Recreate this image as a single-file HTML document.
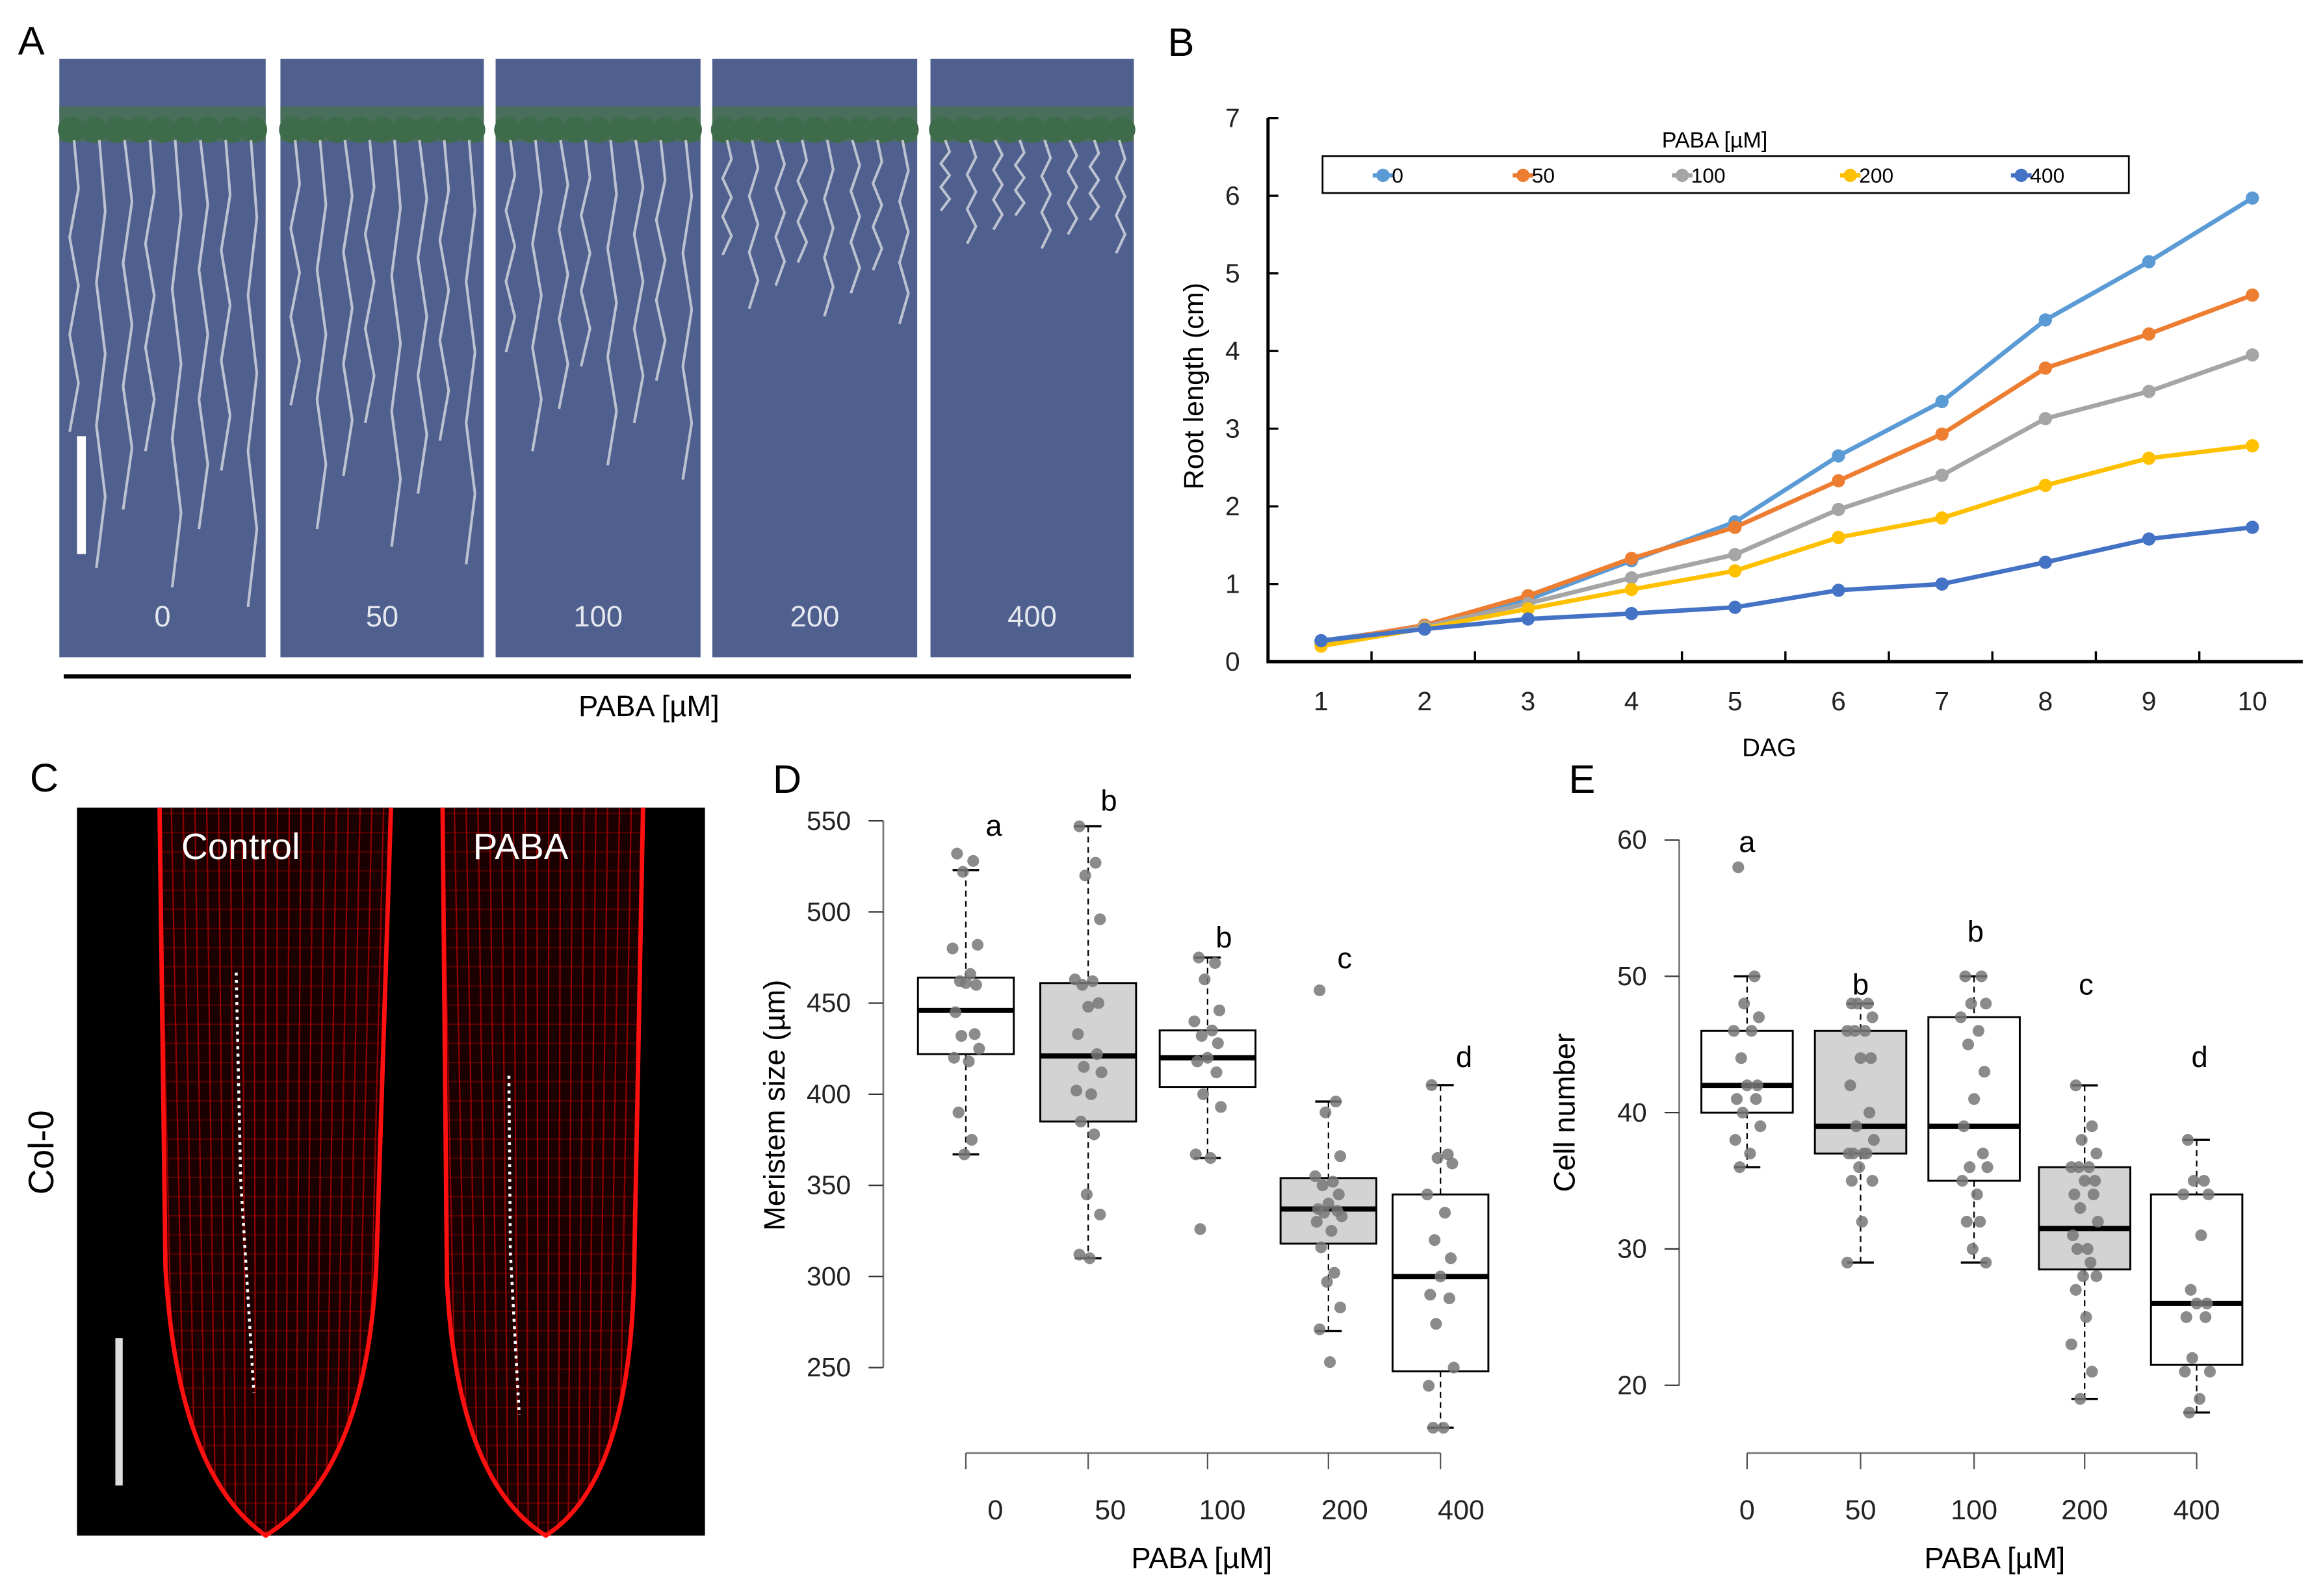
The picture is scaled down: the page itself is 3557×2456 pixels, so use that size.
<!DOCTYPE html>
<html><head><meta charset="utf-8">
<style>
html,body{margin:0;padding:0;background:#fff;}
svg{display:block;font-family:"Liberation Sans",Arial,sans-serif;}
</style></head>
<body>
<svg id="fig" width="3557" height="2456" viewBox="0 0 1568 1083" xmlns="http://www.w3.org/2000/svg">
<rect width="1568" height="1083" fill="#fff"/>
<defs>
<clipPath id="rootC"><path d="M108,548 L112,860 Q120,1000 180,1042 Q248,1000 255,860 L265,548 Z"/></clipPath>
<clipPath id="rootP"><path d="M300,548 L303,870 Q310,1005 370,1042 Q428,1005 430,860 L436,548 Z"/></clipPath>
</defs>
<g id="panelA"></g>
<text x="12" y="37" font-size="27">A</text>
<line x1="43" y1="459" x2="767" y2="459" stroke="#000" stroke-width="3"/>
<text x="440" y="486" font-size="20" text-anchor="middle">PABA [µM]</text>

<g id="panelC"></g>
<text x="20" y="537" font-size="27">C</text>
<text x="0" y="0" font-size="24" text-anchor="middle" transform="translate(36,782) rotate(-90)">Col-0</text>

<g id="panelB"></g>
<g id="panelD"></g>
<g id="panelE"></g>
</svg>
<script>
const NS="http://www.w3.org/2000/svg";
function mk(parent,tag,attrs,txt){const e=document.createElementNS(NS,tag);for(const k in attrs)e.setAttribute(k,attrs[k]);if(txt!==undefined)e.textContent=txt;parent.appendChild(e);return e;}

/* ---------- Panel B data ---------- */
const bDays=[1,2,3,4,5,6,7,8,9,10];
const bSeriesNames=["0","50","100","200","400"];
const bColors=["#5b9bd5","#ed7d31","#a5a5a5","#ffc000","#4472c4"];
const b0=[0.27,0.45,0.80,1.30,1.80,2.65,3.35,4.40,5.15,5.97];
const b50=[0.25,0.47,0.85,1.33,1.73,2.33,2.93,3.78,4.22,4.72];
const b100=[0.22,0.45,0.75,1.08,1.38,1.96,2.40,3.13,3.48,3.95];
const b200=[0.20,0.43,0.68,0.93,1.17,1.60,1.85,2.27,2.62,2.78];
const b400=[0.27,0.42,0.55,0.62,0.70,0.92,1.00,1.28,1.58,1.73];
const bYTicks=[0,1,2,3,4,5,6,7];

/* ---------- Panel D data ---------- */
const dCats=["0","50","100","200","400"];
const dQ1=[422,385,404,318,248];
const dMed=[446,421,420,337,300];
const dQ3=[464,461,435,354,345];
const dLo=[367,310,365,270,217];
const dHi=[523,547,475,396,405];
const dLetters=["a","b","b","c","d"];
const dYTicks=[250,300,350,400,450,500,550];
const dPts0=[532,528,522,482,480,466,462,460,461,445,433,432,425,420,418,390,375,367];
const dPts50=[547,527,520,496,463,462,460,450,448,433,422,415,412,402,400,385,378,345,334,312,310];
const dPts100=[475,472,463,446,440,435,432,428,420,418,412,400,393,367,365,326];
const dPts200=[457,396,390,366,355,352,350,345,340,337,336,335,333,330,325,316,302,297,283,271,253];
const dPts400=[405,367,365,362,345,335,320,310,300,290,288,274,250,240,217,217];

/* ---------- Panel E data ---------- */
const eQ1=[40,37,35,28.5,21.5];
const eMed=[42,39,39,31.5,26];
const eQ3=[46,46,47,36,34];
const eLo=[36,29,29,19,18];
const eHi=[50,48,50,42,38];
const eLetters=["a","b","b","c","d"];
const eYTicks=[20,30,40,50,60];
const ePts0=[58,50,48,47,46,46,44,42,42,41,41,40,39,38,37,36];
const ePts50=[48,48,48,47,46,46,46,44,44,42,40,39,38,37,37,37,37,36,35,35,32,29];
const ePts100=[50,50,48,48,47,46,45,43,41,39,37,36,36,35,34,32,32,30,29];
const ePts200=[42,39,38,37,36,36,36,35,35,34,34,33,32,31,30,30,29,28,28,27,25,23,21,19];
const ePts400=[38,35,35,34,34,31,27,26,26,25,25,22,21,21,19,18];

/* ===== Panel B ===== */
(function(){
 const g=document.getElementById('panelB');
 const step=70.2;
 const xS=d=>896+(d-1)*step, yS=v=>449-v*52.7;
 const AX=860;
 let t=mk(g,'text',{x:792,y:38,'font-size':27});t.textContent='B';
 
 
 let ax=mk(g,'path',{d:`M${AX},${yS(7)} L${AX},449 L1562,449`,fill:'none',stroke:'#000','stroke-width':2.2});
 
 
 for(let i=0;i<11;i++){const x=AX+i*step;if(x>AX+1&&x<1562)mk(g,'line',{x1:x,y1:449,x2:x,y2:442,stroke:'#000','stroke-width':1.5});}
 bYTicks.forEach(v=>{mk(g,'line',{x1:AX,y1:yS(v),x2:AX+7,y2:yS(v),stroke:'#000','stroke-width':1.5});
  const l=mk(g,'text',{x:841,y:yS(v)+6,'font-size':18,'text-anchor':'end',fill:'#222'},v);
  
  });
 bDays.forEach(d=>{const l=mk(g,'text',{x:xS(d),y:482,'font-size':18,'text-anchor':'middle',fill:'#222'},d);
  
  });
 let yt=mk(g,'text',{x:0,y:0,'font-size':19,'text-anchor':'middle',transform:`translate(816,262) rotate(-90)`},'Root length (cm)');
 
 
 let xt=mk(g,'text',{x:1200,y:513,'font-size':17,'text-anchor':'middle'},'DAG');
 
 
 const series=[b0,b50,b100,b200,b400];
 series.forEach((s,k)=>{
  const pts=s.map((v,i)=>xS(bDays[i])+','+yS(v)).join(' ');
  const pl=mk(g,'polyline',{points:pts,fill:'none',stroke:bColors[k],'stroke-width':3});
  
  
  s.forEach((v,i)=>{const c=mk(g,'circle',{cx:xS(bDays[i]),cy:yS(v),r:4.5,fill:bColors[k]});
   
   });
 });
 const lg=mk(g,'g',{});
 
 
 mk(lg,'text',{x:1163,y:100,'font-size':15,'text-anchor':'middle'},'PABA [µM]');
 mk(lg,'rect',{x:897,y:106,width:547,height:25,fill:'#fff',stroke:'#000','stroke-width':1.2});
 const lx=[935,1030,1138,1252,1368];
 bSeriesNames.forEach((n,k)=>{
  const e=mk(lg,'g',{});
  
  
  mk(e,'line',{x1:lx[k]-4,y1:119,x2:lx[k]+10,y2:119,stroke:bColors[k],'stroke-width':3});
  mk(e,'circle',{cx:lx[k]+3,cy:119,r:4.5,fill:bColors[k]});
  mk(e,'text',{x:lx[k]+9,y:124,'font-size':14},n);
 });
})();

/* ===== Box plots ===== */
function boxPanel(id,cfg){
 const g=document.getElementById(id);
 const yS=v=>cfg.y0+(v-cfg.v0)*cfg.k;
 let t=mk(g,'text',{x:cfg.label[0],y:cfg.label[1],'font-size':27},cfg.letter);
 
 
 const yMin=yS(cfg.yt[0]),yMax=yS(cfg.yt[cfg.yt.length-1]);
 mk(g,'line',{x1:cfg.ax,y1:yMin,x2:cfg.ax,y2:yMax,stroke:'#777','stroke-width':1.2});
 cfg.yt.forEach(v=>{mk(g,'line',{x1:cfg.ax-10,y1:yS(v),x2:cfg.ax,y2:yS(v),stroke:'#333'});
  const l=mk(g,'text',{x:cfg.ax-22,y:yS(v)+6,'font-size':18,'text-anchor':'end',fill:'#222'},v);
  
  });
 const cx=cfg.cx;
 mk(g,'line',{x1:cx[0],y1:986,x2:cx[4],y2:986,stroke:'#777','stroke-width':1.2});
 cx.forEach((x,i)=>{mk(g,'line',{x1:x,y1:986,x2:x,y2:997,stroke:'#555'});
  const l=mk(g,'text',{x:cfg.lx[i],y:1031,'font-size':19,'text-anchor':'middle',fill:'#222'},dCats[i]);
  
  });
 let xt=mk(g,'text',{x:cfg.titleX,y:1064,'font-size':20,'text-anchor':'middle'},'PABA [µM]');
 
 
 let yt=mk(g,'text',{x:0,y:0,'font-size':20,'text-anchor':'middle',transform:`translate(${cfg.ytX},${cfg.ytY}) rotate(-90)`},cfg.ytitle);
 
 
 const w=cfg.w;
 const jit=[-6,5,-2,8,-9,3,-4,7,0,-7,6,-3,9,-8,2,-5,4,-1,8,-6,1,-9,5,-3,7];
 cx.forEach((x,i)=>{
  const bg=mk(g,'g',{});
  
  
  const hw=w/2;
  mk(bg,'line',{x1:x,y1:yS(cfg.hi[i]),x2:x,y2:yS(cfg.q3[i]),stroke:'#000','stroke-dasharray':'4,3'});
  mk(bg,'line',{x1:x,y1:yS(cfg.q1[i]),x2:x,y2:yS(cfg.lo[i]),stroke:'#000','stroke-dasharray':'4,3'});
  mk(bg,'line',{x1:x-9,y1:yS(cfg.hi[i]),x2:x+9,y2:yS(cfg.hi[i]),stroke:'#000','stroke-width':1.5});
  mk(bg,'line',{x1:x-9,y1:yS(cfg.lo[i]),x2:x+9,y2:yS(cfg.lo[i]),stroke:'#000','stroke-width':1.5});
  mk(bg,'rect',{x:x-hw,y:yS(cfg.q3[i]),width:w,height:yS(cfg.q1[i])-yS(cfg.q3[i]),fill:(i%2?'#d3d3d3':'#fff'),stroke:'#000','stroke-width':1.3});
  mk(bg,'line',{x1:x-hw,y1:yS(cfg.med[i]),x2:x+hw,y2:yS(cfg.med[i]),stroke:'#000','stroke-width':3.5});
  cfg.pts[i].forEach((v,j)=>{const c=mk(bg,'circle',{cx:x+jit[j%jit.length],cy:yS(v),r:4,fill:'#777','fill-opacity':0.85});
   
   });
  const L=mk(g,'text',{x:cfg.letX[i],y:cfg.letY[i],'font-size':20,'text-anchor':'middle'},cfg.letters[i]);
  
  
 });
}
boxPanel('panelD',{letter:'D',label:[524,538],y0:557,v0:550,k:-1.2367,yt:dYTicks,ax:599,
 cx:[655,738,819,901,977],lx:[675,753,829,912,991],titleX:815,ytX:532,ytY:750,ytitle:'Meristem size (µm)',w:65,
 q1:dQ1,med:dMed,q3:dQ3,lo:dLo,hi:dHi,pts:[dPts0,dPts50,dPts100,dPts200,dPts400],letters:dLetters,
 letX:[674,752,830,912,993],letY:[567,550,643,657,724]});
boxPanel('panelE',{letter:'E',label:[1064,538],y0:940,v0:20,k:-9.25,yt:eYTicks,ax:1139,
 cx:[1185,1262,1339,1414,1490],lx:[1185,1262,1339,1414,1490],titleX:1353,ytX:1068,ytY:755,ytitle:'Cell number',w:62,
 q1:eQ1,med:eMed,q3:eQ3,lo:eLo,hi:eHi,pts:[ePts0,ePts50,ePts100,ePts200,ePts400],letters:eLetters,
 letX:[1185,1262,1340,1415,1492],letY:[578,675,639,675,724]});

/* ===== Panel A (photo approximation) ===== */
(function(){
 const g=document.getElementById('panelA');
 const px=[[40,180],[190,328],[336,475],[483,622],[631,769]];
 const labs=["0","50","100","200","400"];
 const rootLen=[330,300,240,130,80];
 px.forEach((p,i)=>{
  const pg=mk(g,'g',{});
  
  
  mk(pg,'rect',{x:p[0],y:40,width:p[1]-p[0],height:406,fill:'#4f5f8e'});
  mk(pg,'rect',{x:p[0],y:72,width:p[1]-p[0],height:24,fill:'#4a6e5c'});
  for(let r=0;r<9;r++){mk(pg,'circle',{cx:p[0]+8+r*((p[1]-p[0]-16)/8),cy:88,r:9,fill:'#3e6b4a'});}
  const n=8;
  for(let r=0;r<n;r++){
   const x=p[0]+10+r*((p[1]-p[0]-20)/(n-1));
   const L=rootLen[i]*(0.6+0.4*((r*37)%10)/10);
   let d=`M${x},95`;
   for(let s=1;s<=6;s++){d+=` L${x+((s%2)?3:-3)+r%3},${95+L*s/6}`;}
   mk(pg,'path',{d:d,fill:'none',stroke:'#d0d3dc','stroke-width':1.8,opacity:0.85});
  }
  mk(pg,'text',{x:(p[0]+p[1])/2,y:425,'font-size':20,'text-anchor':'middle',fill:'#e6e8ef'},labs[i]);
 });
 const sb=mk(g,'rect',{x:52,y:296,width:6,height:80,fill:'#fff'});
 
 
})();

/* ===== Panel C (confocal approximation) ===== */
(function(){
 const g=document.getElementById('panelC');
 mk(g,'rect',{x:52,y:548,width:426,height:494,fill:'#000'});
 [['rootC',108,265,180],['rootP',300,436,370]].forEach((r,k)=>{
  const rg=mk(g,'g',{'clip-path':`url(#${r[0]})`});
  
  
  mk(rg,'rect',{x:r[1],y:548,width:r[2]-r[1],height:500,fill:'#1a0000'});
  for(let x=r[1];x<=r[2];x+=8)mk(rg,'line',{x1:x,y1:548,x2:x+(r[3]-x)*0.15,y2:1042,stroke:'#c00000','stroke-width':1,opacity:0.7});
  for(let y=552;y<1042;y+=13)mk(rg,'line',{x1:r[1],y1:y,x2:r[2],y2:y,stroke:'#a00000','stroke-width':0.8,opacity:0.5});
 });
 mk(g,'path',{d:'M108,548 L112,860 Q120,1000 180,1042 Q248,1000 255,860 L265,548',fill:'none',stroke:'#ff1010','stroke-width':3});
 mk(g,'path',{d:'M300,548 L303,870 Q310,1005 370,1042 Q428,1005 430,860 L436,548',fill:'none',stroke:'#ff1010','stroke-width':3});
 mk(g,'path',{d:'M160,660 L163,800 L172,945',fill:'none',stroke:'#fff','stroke-width':2,'stroke-dasharray':'2,3'});
 mk(g,'path',{d:'M345,730 L346,850 L352,960',fill:'none',stroke:'#fff','stroke-width':2,'stroke-dasharray':'2,3'});
 let t1=mk(g,'text',{x:163,y:583,'font-size':25,'text-anchor':'middle',fill:'#fff'},'Control');
 
 
 let t2=mk(g,'text',{x:353,y:583,'font-size':25,'text-anchor':'middle',fill:'#fff'},'PABA');
 
 
 const sb=mk(g,'rect',{x:78,y:908,width:5,height:100,fill:'#ddd'});
 
 
})();
</script>
</body></html>
